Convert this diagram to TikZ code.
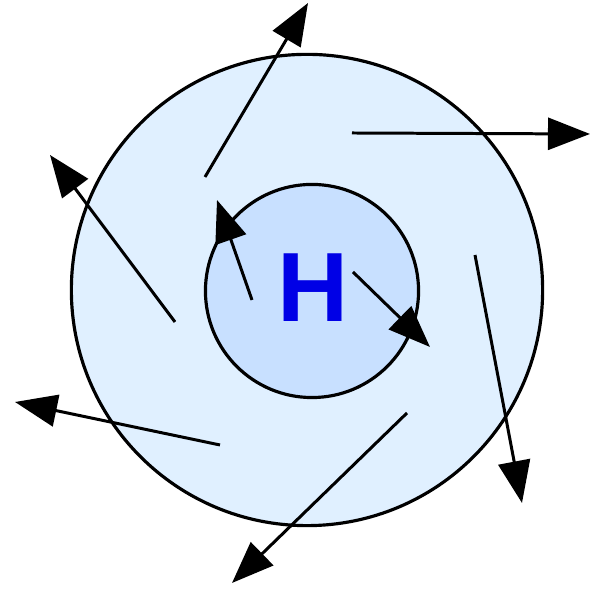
\documentclass[tikz,border=0pt]{standalone}
\usepackage{fontspec}
\newfontfamily\hfont{Liberation Sans}
\usepackage{tikz}
\usetikzlibrary{arrows.meta,positioning}
\definecolor{outerblue}{RGB}{224,240,255}
\definecolor{innerblue}{RGB}{200,224,255}
\definecolor{hblue}{RGB}{0,0,230}

\begin{document}
\begin{tikzpicture}[x=0.01cm, y=-0.01cm,
  ring/.style={circle, draw, line width=0.9pt, inner sep=0pt},
  wind/.style={line width=0.85pt, -{Triangle[length=0.42cm, width=0.32cm]}}]
\useasboundingbox (0,0) rectangle (590,589);

\node [ring, fill=outerblue, minimum size=4.71cm] (outer) at (307,290) {};
\node [ring, fill=innerblue, minimum size=2.13cm] (inner) at (312,291) {};
\node [inner sep=0pt, text=hblue] (H) at (313,288) {\hfont\bfseries\fontsize{28}{28}\selectfont H};

\coordinate (s1) at (205,177); \coordinate (e1) at (308,3);
\coordinate (s2) at (352,133); \coordinate (e2) at (590,134);
\coordinate (s3) at (175,322); \coordinate (e3) at (50,155);
\coordinate (s4) at (252,300); \coordinate (e4) at (217,200);
\coordinate (s5) at (353,272); \coordinate (e5) at (430,347);
\coordinate (s6) at (475,255); \coordinate (e6) at (522,503);
\coordinate (s7) at (220,445); \coordinate (e7) at (15,402);
\coordinate (s8) at (407,413); \coordinate (e8) at (232,583);

\draw [wind] (s1) -- (e1);
\draw [wind] (s2) -- (e2);
\draw [wind] (s3) -- (e3);
\draw [wind] (s4) -- (e4);
\draw [wind] (s5) -- (e5);
\draw [wind] (s6) -- (e6);
\draw [wind] (s7) -- (e7);
\draw [wind] (s8) -- (e8);

\end{tikzpicture}
\end{document}
